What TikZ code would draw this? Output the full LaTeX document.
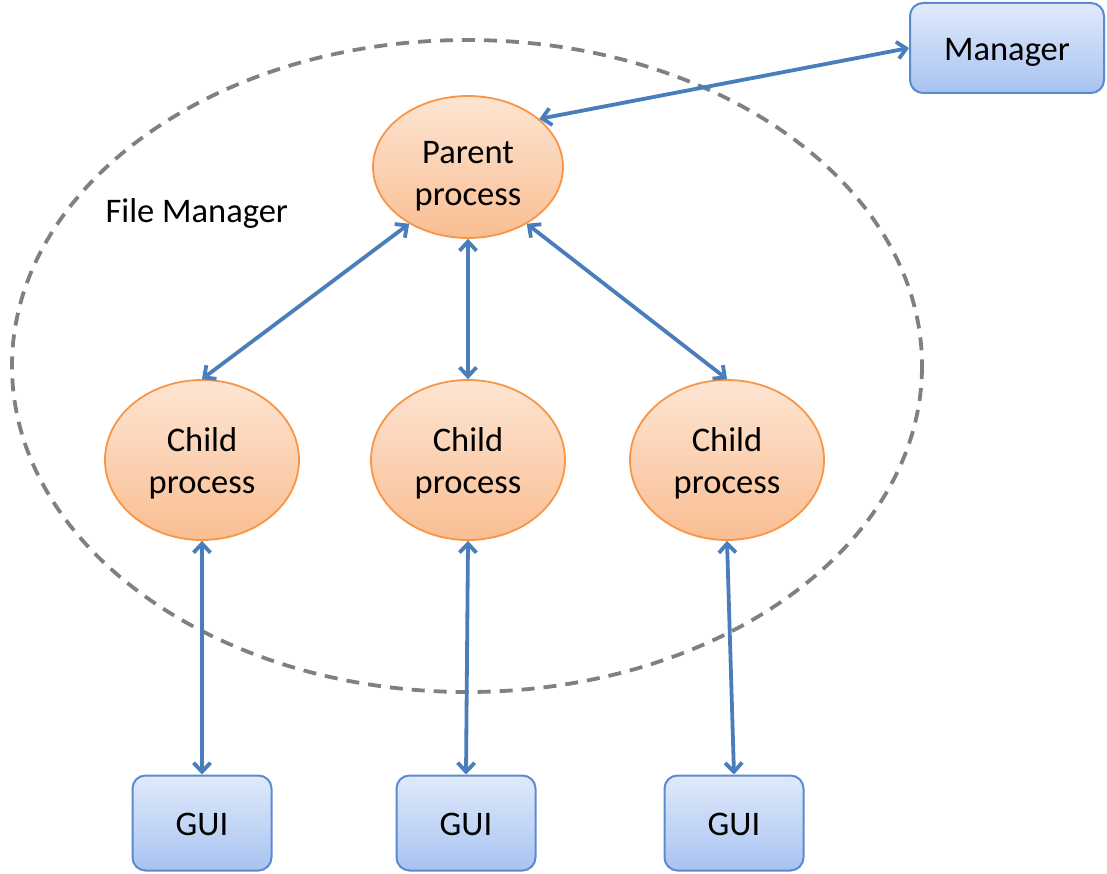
\documentclass[tikz,border=0pt]{standalone}
\usepackage{fontspec}
\setmainfont{Carlito}
\usetikzlibrary{shapes.geometric,arrows.meta}
\definecolor{procfillA}{HTML}{FDE5D3}
\definecolor{procfillB}{HTML}{F9BE92}
\definecolor{procedge}{HTML}{F79646}
\definecolor{boxfillA}{HTML}{E0EAFB}
\definecolor{boxfillB}{HTML}{A8C3F1}
\definecolor{boxedge}{HTML}{5A8AD0}
\definecolor{linkblue}{HTML}{4A7EBB}
\definecolor{groupgray}{HTML}{808080}
% label set a little below the middle of its shape, keeping the shape's size
\newcommand\droplabel[2]{\raisebox{-#1}[\height][\depth]{\begin{tabular}{@{}c@{}}#2\end{tabular}}}
\tikzset{
  txt/.style={font=\fontsize{34.5}{42}\selectfont, text=black},
  proc/.style={ellipse, txt, draw=procedge, line width=1.8pt,
    top color=procfillA, bottom color=procfillB, inner sep=0pt},
  uibox/.style={rectangle, rounded corners=13pt, txt, draw=boxedge, line width=2pt,
    top color=boxfillA, bottom color=boxfillB, inner sep=0pt},
  link/.style={draw=linkblue, line width=3.8pt,
    {Straight Barb[length=9pt,width=17pt]}-{Straight Barb[length=9pt,width=17pt]}},
  group/.style={draw=groupgray, line width=3.8pt, dash pattern=on 13pt off 9pt}
}
\begin{document}
\begin{tikzpicture}[x=1pt,y=-1pt]
  \useasboundingbox (0,0) rectangle (1107,874);

  % process group boundary
  \draw[group] (467,366) ellipse [x radius=455, y radius=326];
  \node[txt, anchor=base west] (fm) at (102,223) {File Manager};

  % processes
  \node[proc, minimum width=190pt, minimum height=142pt] (parent) at (468,167) {\droplabel{9pt}{Parent\\process}};
  \node[proc, minimum width=194pt, minimum height=160pt] (c1) at (202,460) {\droplabel{4pt}{Child\\process}};
  \node[proc, minimum width=194pt, minimum height=160pt] (c2) at (468,460) {\droplabel{4pt}{Child\\process}};
  \node[proc, minimum width=194pt, minimum height=160pt] (c3) at (727,460) {\droplabel{4pt}{Child\\process}};

  % interfaces
  \node[uibox, minimum width=194pt, minimum height=90pt] (mgr) at (1007,48) {\droplabel{4.5pt}{Manager}};
  \node[uibox, minimum width=139pt, minimum height=95pt] (g1) at (202,823) {\droplabel{4.5pt}{GUI}};
  \node[uibox, minimum width=139pt, minimum height=95pt] (g2) at (466,823) {\droplabel{4.5pt}{GUI}};
  \node[uibox, minimum width=139pt, minimum height=95pt] (g3) at (734,823) {\droplabel{4.5pt}{GUI}};

  % connections
  \draw[link] (parent.34) -- (mgr.west);
  \draw[link] (parent.-136) -- (c1.north);
  \draw[link] (parent.south) -- (c2.north);
  \draw[link] (parent.-44) -- (c3.north);
  \draw[link] (c1.south) -- (g1.north);
  \draw[link] (c2.south) -- (g2.north);
  \draw[link] (c3.south) -- (g3.north);
\end{tikzpicture}
\end{document}
